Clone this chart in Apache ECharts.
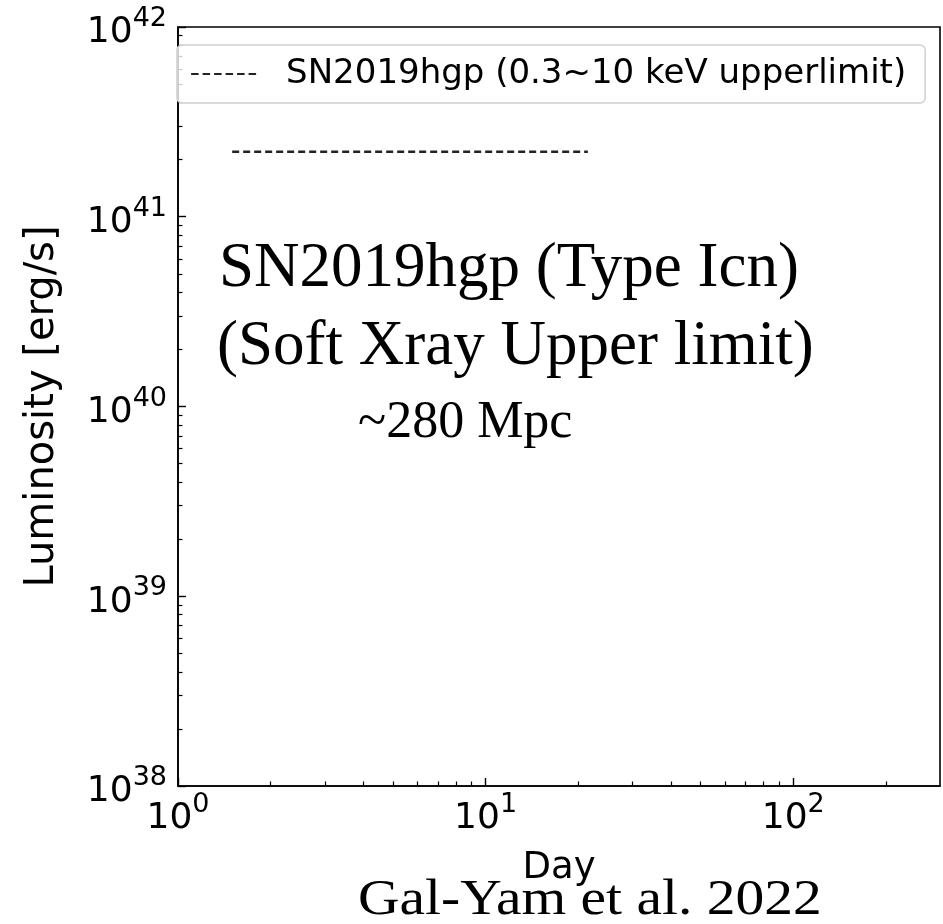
<!DOCTYPE html>
<html>
<head>
<meta charset="utf-8">
<script src="https://cdn.jsdelivr.net/npm/echarts@6/dist/echarts.min.js"></script>
<style>
  html, body { margin: 0; padding: 0; background: #fff; }
  #chart { width: 943px; height: 924px; }
</style>
</head>
<body>
<div id="chart"></div>
<script>
// X-ray upper limit for SN2019hgp, luminosity vs. days since explosion
const seriesName = 'SN2019hgp (0.3~10 keV upperlimit)';
const days = [1.5, 21.5];
const luminosity = [2.2e41, 2.2e41];

// axis ranges and tick positions
const xRange = [1, 300];
const yRange = [1e38, 1e42];
const xMajorTicks = [1, 10, 100];
const xMinorTicks = [2, 3, 4, 5, 6, 7, 8, 9, 20, 30, 40, 50, 60, 70, 80, 90, 200];
const yMinorTicks = [];
for (let e = 38; e < 42; e++) {
  for (let m = 2; m <= 9; m++) yMinorTicks.push(m * Math.pow(10, e));
}

// annotation text
const noteLines = ['SN2019hgp (Type Icn)', '(Soft Xray Upper limit)'];
const distanceNote = '~280 Mpc';
const sourceNote = 'Gal-Yam et al. 2022';

const sans = '"DejaVu Sans", sans-serif';
const serif = '"Liberation Serif", "Times New Roman", serif';

// power-of-ten tick labels: "10" with a raised exponent
const powLabel = {
  b: { fontFamily: sans, fontSize: 36, lineHeight: 55, color: '#000' },
  s: { fontFamily: sans, fontSize: 27, lineHeight: 27, color: '#000', verticalAlign: 'top' }
};
function powFormatter(v) {
  const e = Math.round(Math.log10(v));
  return '{b|10}{s|' + e + '}';
}

const data = days.map((d, i) => [d, luminosity[i]]);

const chart = echarts.init(document.getElementById('chart'), null, { renderer: 'canvas' });

chart.setOption({
  animation: false,
  backgroundColor: '#fff',
  grid: {
    left: 178, top: 27, right: 3, bottom: 138,
    show: true, borderColor: '#000', borderWidth: 1.6, backgroundColor: 'transparent'
  },
  legend: {
    left: 177, top: 45,
    orient: 'horizontal',
    padding: [12, 19, 12, 13],
    backgroundColor: 'rgba(255,255,255,0.8)',
    borderColor: '#d0d0d0', borderWidth: 1.5, borderRadius: 5,
    itemWidth: 68, itemHeight: 14,
    itemStyle: { opacity: 0 },
    lineStyle: { color: '#222', width: 2.2, type: [7.5, 4] },
    textStyle: { fontFamily: sans, fontSize: 34, color: '#000', padding: [0, 0, 0, 22] },
    data: [seriesName]
  },
  xAxis: [
    {
      type: 'log', logBase: 10, min: xRange[0], max: xRange[1], position: 'bottom',
      name: 'Day', nameLocation: 'middle', nameGap: 64,
      nameTextStyle: { fontFamily: sans, fontSize: 37, color: '#000' },
      axisLine: { show: true, lineStyle: { color: '#000', width: 1.6 } },
      axisTick: { show: true, inside: true, length: 8, lineStyle: { color: '#000', width: 1.4 }, customValues: xMajorTicks },
      axisLabel: { show: true, margin: 5, formatter: powFormatter, rich: powLabel, customValues: xMajorTicks },
      splitLine: { show: false }
    },
    {
      type: 'log', logBase: 10, min: xRange[0], max: xRange[1], position: 'bottom', offset: 0,
      axisLine: { show: false },
      axisTick: { show: true, inside: true, length: 4.5, lineStyle: { color: '#000', width: 1.2 }, customValues: xMinorTicks },
      axisLabel: { show: false },
      splitLine: { show: false }
    }
  ],
  yAxis: [
    {
      type: 'log', logBase: 10, min: yRange[0], max: yRange[1], position: 'left',
      name: 'Luminosity [erg/s]', nameLocation: 'middle', nameGap: 115, nameRotate: 90,
      nameTextStyle: { fontFamily: sans, fontSize: 40, color: '#000' },
      axisLine: { show: true, lineStyle: { color: '#000', width: 1.6 } },
      axisTick: { show: true, inside: true, length: 8, lineStyle: { color: '#000', width: 1.4 } },
      axisLabel: { show: true, margin: 11, padding: [12, 0, 0, 0], formatter: powFormatter, rich: powLabel, showMaxLabel: true, showMinLabel: true },
      splitLine: { show: false }
    },
    {
      type: 'log', logBase: 10, min: yRange[0], max: yRange[1], position: 'left', offset: 0,
      axisLine: { show: false },
      axisTick: { show: true, inside: true, length: 4.5, lineStyle: { color: '#000', width: 1.2 }, customValues: yMinorTicks },
      axisLabel: { show: false },
      splitLine: { show: false }
    }
  ],
  series: [{
    name: seriesName,
    type: 'line',
    xAxisIndex: 0, yAxisIndex: 0,
    data: data,
    symbol: 'none',
    lineStyle: { color: '#222', width: 2.5, type: [7, 4] },
    itemStyle: { color: '#222' },
    z: 3
  }],
  graphic: [
    { type: 'text', left: 219, top: 238, style: { text: noteLines[0], font: '63px ' + serif, fill: '#000' } },
    { type: 'text', left: 217, top: 316, style: { text: noteLines[1], font: '63px ' + serif, fill: '#000' } },
    { type: 'text', left: 358, top: 397, style: { text: distanceNote, font: '52px ' + serif, fill: '#000' } },
    { type: 'text', left: 358, top: 876, scaleX: 1.15, style: { text: sourceNote, font: '50px ' + serif, fill: '#000' } }
  ]
});
</script>
</body>
</html>
